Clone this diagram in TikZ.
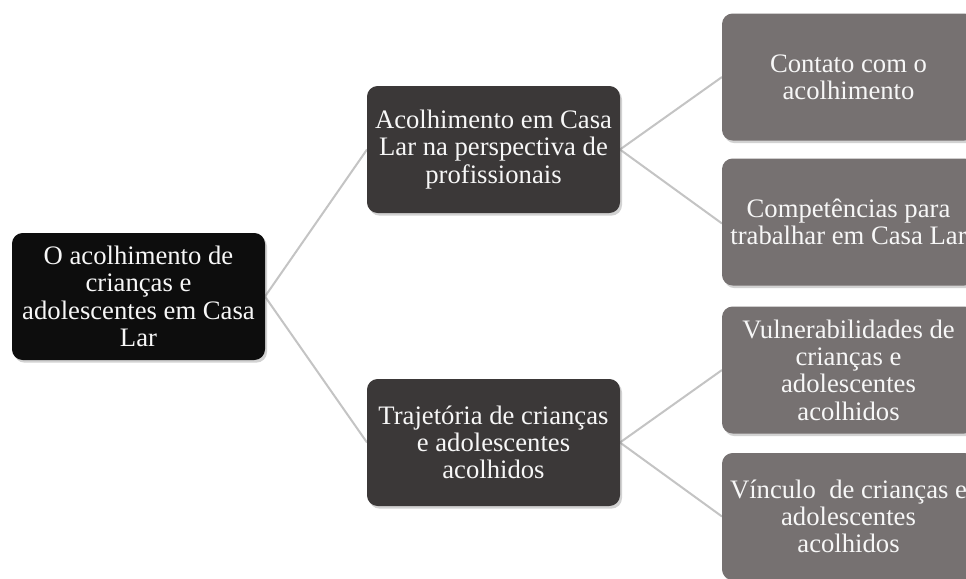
\documentclass[tikz,border=0pt]{standalone}
\usepackage{fontspec}
\setmainfont{Liberation Serif}
\usetikzlibrary{shadows}
\definecolor{rootc}{HTML}{0D0D0D}
\definecolor{midc}{HTML}{3B3838}
\definecolor{leafc}{HTML}{767171}
\definecolor{linkc}{HTML}{C4C4C4}
\definecolor{txtc}{HTML}{F7F7F7}
\tikzset{
  boxbase/.style={rounded corners=8pt, minimum width=189.75pt, minimum height=95.25pt,
    inner sep=0pt, align=center, text=txtc,
    font=\fontsize{20}{20.5}\selectfont,
    drop shadow={opacity=0.35, shadow xshift=1.5pt, shadow yshift=-2pt}},
  rootbox/.style={boxbase, fill=rootc},
  midbox/.style={boxbase, fill=midc},
  leafbox/.style={boxbase, fill=leafc},
  link/.style={draw=linkc, line width=1.5pt}
}
\begin{document}
\begin{tikzpicture}[x=0.75pt, y=-0.75pt]
\useasboundingbox[fill=white] (0,0) rectangle (966,578);
\coordinate (rE) at (265,296.5);
\coordinate (m1W) at (367,149.5);
\coordinate (m2W) at (367,442.5);
\coordinate (m1E) at (620,149.5);
\coordinate (m2E) at (620,442.5);
\coordinate (l1W) at (722,77);
\coordinate (l2W) at (722,223.5);
\coordinate (l3W) at (722,370);
\coordinate (l4W) at (722,516.5);
\draw[link] (rE) -- (m1W);
\draw[link] (rE) -- (m2W);
\draw[link] (m1E) -- (l1W);
\draw[link] (m1E) -- (l2W);
\draw[link] (m2E) -- (l3W);
\draw[link] (m2E) -- (l4W);
\node[rootbox] (root) at (138.5,296.5) {O acolhimento de\\crianças e\\adolescentes em Casa\\Lar};
\node[midbox] (mid1) at (493.5,149.5) {Acolhimento em Casa\\Lar na perspectiva de\\profissionais};
\node[midbox] (mid2) at (493.5,442.5) {Trajetória de crianças\\e adolescentes\\acolhidos};
\node[leafbox] (leaf1) at (848.5,77) {Contato com o\\acolhimento};
\node[leafbox] (leaf2) at (848.5,222) {Competências para\\trabalhar em Casa Lar};
\node[leafbox] (leaf3) at (848.5,370) {Vulnerabilidades de\\crianças e\\adolescentes\\acolhidos};
\node[leafbox] (leaf4) at (848.5,516.5) {Vínculo\ \ de crianças e\\adolescentes\\acolhidos};
\end{tikzpicture}
\end{document}
